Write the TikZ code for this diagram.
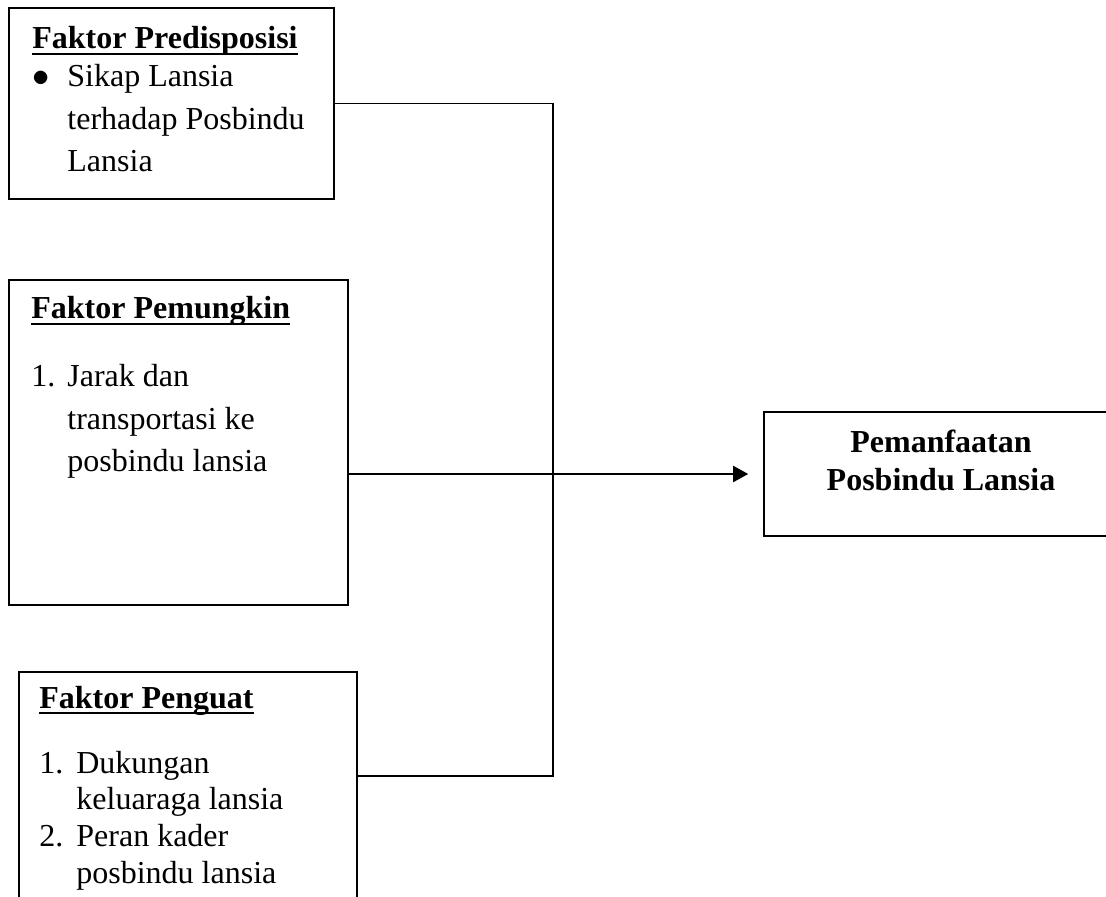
\documentclass[tikz,border=0pt]{standalone}
\usepackage{fontspec}
\setmainfont{Liberation Serif}
\usetikzlibrary{arrows.meta,fit}

\newcommand{\garis}[1]{\setbox0\hbox{#1}\rlap{\rule[-3pt]{\wd0}{1.1pt}}\box0}
\newcommand{\faktor}[1]{\multicolumn{2}{@{}l@{}}{\garis{\textbf{#1}}}}

\tikzset{
  box/.style = {draw, line width = .8pt, inner sep = 0pt},
  txt/.style = {anchor = base west, inner sep = 0pt,
    font = \fontsize{16}{21.25}\selectfont},
  line/.style = {line width = .7pt},
}

\begin{document}
\begin{tikzpicture}[x = .5pt, y = -.5pt]
  \clip (0, 0) rectangle (1106, 897);
  % kotak
  \node[box, fit = {(9, 8) (334, 199)}] (pred) {};
  \node[box, fit = {(9, 280) (348, 605)}] (pemk) {};
  \node[box, fit = {(19, 672) (357, 930)}] (peng) {};
  \node[box, fit = {(764, 412) (1112, 536)}] (guna) {};
  % isi kotak
  \node[txt] (predt) at (32, 49) {\begin{tabular}[t]{@{}p{17.5pt}@{}l@{}}
    \faktor{Faktor Predisposisi}\\[-2.25pt]
    $\bullet$ & Sikap Lansia\\ & terhadap Posbindu\\ & Lansia\end{tabular}};
  \node[txt] (pemkt) at (31, 319) {\begin{tabular}[t]{@{}p{18pt}@{}l@{}}
    \faktor{Faktor Pemungkin}\\[12.75pt]
    1. & Jarak dan\\ & transportasi ke\\ & posbindu lansia\end{tabular}};
  \node[txt, font = \fontsize{16}{18.4}\selectfont] (pengt) at (39, 708)
  {\begin{tabular}[t]{@{}p{18.5pt}@{}l@{}}
    \faktor{Faktor Penguat}\\[14.1pt]
    1. & Dukungan\\ & keluaraga lansia\\ 2. & Peran kader\\
    & posbindu lansia\end{tabular}};
  \node[txt, anchor = base, font = \bfseries\fontsize{16}{19}\selectfont]
  (gunat) at (941, 452) {\begin{tabular}[t]{@{}c@{}}
    Pemanfaatan\\ Posbindu Lansia\end{tabular}};
  % garis
  \coordinate (bend) at (553, 776);
  \draw[line] (pred.east) -| (bend) -- (peng.east |- bend);
  \draw[line, line width = 1pt, -{Triangle[length = 7.5pt, width = 8pt]}]
  (pemk.east |- guna.west) -- ([xshift = -7.5pt]guna.west);
\end{tikzpicture}
\end{document}
